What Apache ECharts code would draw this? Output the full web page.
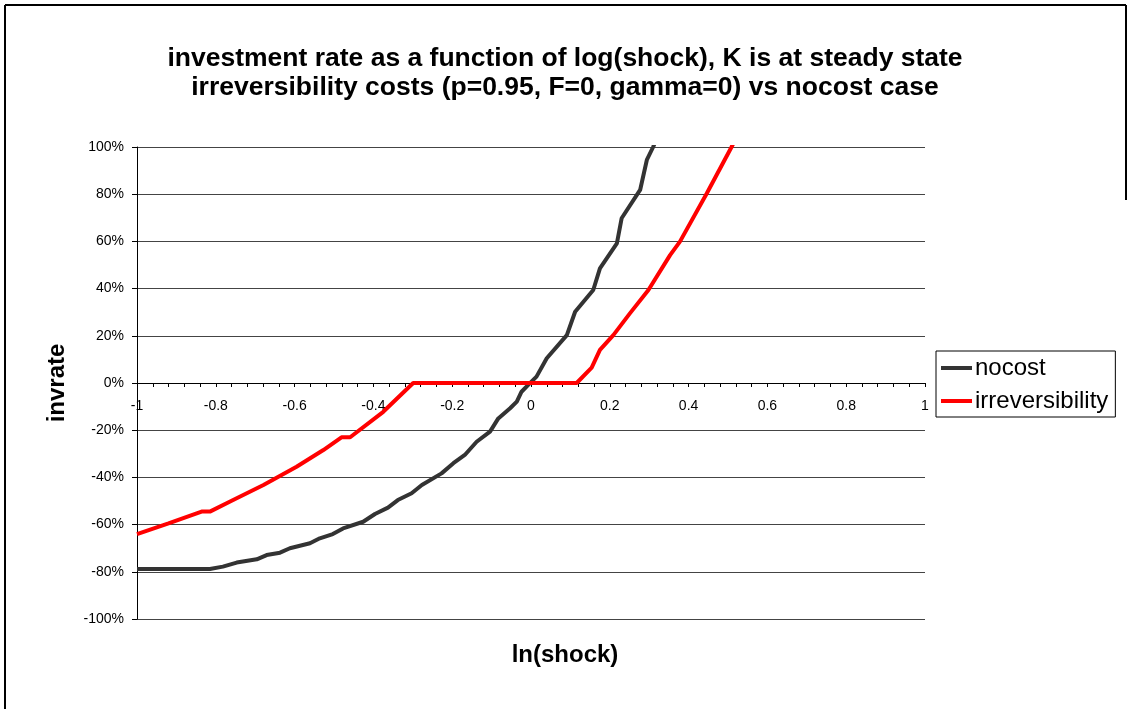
<!DOCTYPE html>
<html lang="en">
<head>
    <meta charset="UTF-8">
    <script type="text/javascript" src="https://cdn.jsdelivr.net/npm/echarts@6.0.0/dist/echarts.min.js"></script>
    <style>
        html, body { margin: 0; padding: 0; background: #fff; }
        #mainChart { width: 1130px; height: 709px; }
    </style>
</head>
<body>
    <div id="mainChart"></div>
</body>

<script>
    // x = ln(shock), y = investment rate (fraction)
    var shockNocost = [-1, -0.815, -0.782, -0.747, -0.696, -0.671, -0.637, -0.612, -0.561, -0.536,
        -0.503, -0.477, -0.426, -0.396, -0.363, -0.338, -0.303, -0.277, -0.227, -0.197,
        -0.168, -0.138, -0.104, -0.083, -0.053, -0.036, -0.024, -0.007, 0.014, 0.040,
        0.091, 0.112, 0.158, 0.175, 0.218, 0.230, 0.277, 0.294, 0.310, 0.330];
    var rateNocost = [-0.788, -0.788, -0.778, -0.761, -0.747, -0.729, -0.719, -0.700, -0.679, -0.658,
        -0.640, -0.616, -0.588, -0.555, -0.528, -0.496, -0.467, -0.432, -0.383, -0.340,
        -0.305, -0.249, -0.206, -0.150, -0.107, -0.079, -0.037, -0.008, 0.027, 0.105,
        0.203, 0.302, 0.394, 0.486, 0.592, 0.698, 0.818, 0.945, 1.0, 1.08];

    var shockIrrev = [-1, -0.92, -0.836, -0.815, -0.756, -0.679, -0.595, -0.527, -0.481, -0.459,
        -0.375, -0.299, 0.116, 0.154, 0.175, 0.209, 0.251, 0.298, 0.353, 0.378,
        0.446, 0.509, 0.530];
    var rateIrrev = [-0.640, -0.595, -0.545, -0.545, -0.496, -0.432, -0.355, -0.284, -0.230, -0.230,
        -0.122, 0, 0, 0.065, 0.140, 0.203, 0.295, 0.394, 0.542, 0.599,
        0.803, 1.0, 1.07];

    var seriesNames = ["nocost", "irreversibility"];
    var titleLines = ["investment rate as a function of log(shock), K is at steady state",
        "irreversibility costs (p=0.95, F=0, gamma=0) vs nocost case"];

    function makePairs(xs, ys) {
        var out = [];
        for (var i = 0; i < xs.length; i++) {
            out.push([xs[i], ys[i]]);
        }
        return out;
    }

    var fontName = "'Liberation Sans', Arial, sans-serif";
    var chart = echarts.init(document.getElementById("mainChart"));

    // grid: plot spans 147..619 vertically, zero line sits halfway
    var gridTop = 147, gridBottom = 90;
    var gridHeight = 709 - gridTop - gridBottom;

    var option = {
        animation: false,
        backgroundColor: "#fff",
        textStyle: { fontFamily: fontName, color: "#000" },
        title: {
            text: titleLines.join("\n"),
            left: "center",
            top: 44,
            padding: 0,
            textStyle: { fontFamily: fontName, fontSize: 26.5, fontWeight: "bold", lineHeight: 29, color: "#000" }
        },
        legend: {
            orient: "vertical",
            left: 936,
            top: 351,
            padding: [5, 7, 4, 5],
            itemGap: 9,
            itemWidth: 31,
            itemHeight: 4,
            icon: "rect",
            borderColor: "#000",
            borderWidth: 1,
            textStyle: { fontFamily: fontName, fontSize: 24, color: "#000", padding: [0, 0, 0, -2] },
            data: seriesNames
        },
        grid: { left: 137, right: 205, top: gridTop, bottom: gridBottom },
        xAxis: {
            type: "value",
            min: -1,
            max: 1,
            interval: 0.2,
            position: "bottom",
            offset: -gridHeight / 2,
            axisLine: { onZero: false, lineStyle: { color: "#000", width: 1 } },
            axisTick: { show: true, length: 4, lineStyle: { color: "#000" } },
            minorTick: { show: true, splitNumber: 5, length: 4, lineStyle: { color: "#000" } },
            splitLine: { show: false },
            axisLabel: {
                margin: 16,
                fontSize: 14,
                color: "#000",
                fontFamily: fontName,
                formatter: function (v) { return String(parseFloat(v.toFixed(1))); }
            }
        },
        yAxis: {
            type: "value",
            min: -1,
            max: 1,
            interval: 0.2,
            axisLine: { show: true, onZero: false, lineStyle: { color: "#000", width: 1 } },
            axisTick: { show: true, length: 5, lineStyle: { color: "#000" } },
            splitLine: { show: true, lineStyle: { color: "#444", width: 1 } },
            axisLabel: {
                margin: 13,
                fontSize: 14,
                color: "#000",
                fontFamily: fontName,
                formatter: function (v) { return Math.round(v * 100) + "%"; }
            }
        },
        graphic: [
            // outer frame
            { type: "line", shape: { x1: 5, y1: 5, x2: 5, y2: 709 }, style: { stroke: "#000", lineWidth: 2 } },
            { type: "line", shape: { x1: 5, y1: 5, x2: 1126, y2: 5 }, style: { stroke: "#000", lineWidth: 2 } },
            { type: "line", shape: { x1: 1126, y1: 5, x2: 1126, y2: 200 }, style: { stroke: "#000", lineWidth: 2 } },
            // axis titles
            {
                type: "text", left: "center", top: 643,
                style: { text: "ln(shock)", font: "bold 24px " + fontName, fill: "#000" }
            },
            {
                type: "text", x: 57, y: 383, rotation: Math.PI / 2,
                style: { text: "invrate", font: "bold 24px " + fontName, fill: "#000", align: "center", verticalAlign: "middle" }
            }
        ],
        series: [
            {
                name: seriesNames[0],
                type: "line",
                data: makePairs(shockNocost, rateNocost),
                symbol: "none",
                clip: true,
                lineStyle: { color: "#333333", width: 4 },
                itemStyle: { color: "#333333" }
            },
            {
                name: seriesNames[1],
                type: "line",
                data: makePairs(shockIrrev, rateIrrev),
                symbol: "none",
                clip: true,
                lineStyle: { color: "#ff0000", width: 4 },
                itemStyle: { color: "#ff0000" }
            }
        ]
    };

    chart.setOption(option);
</script>
</html>
